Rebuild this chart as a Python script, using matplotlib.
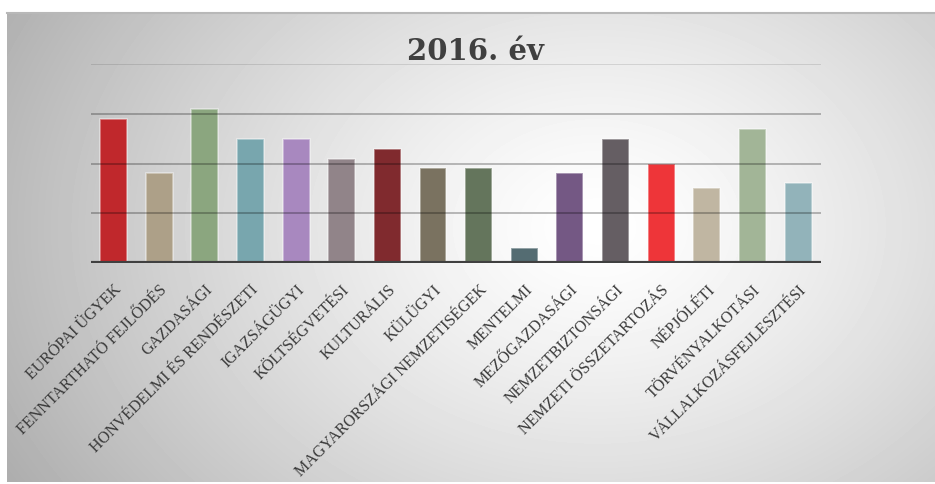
import numpy as np
import matplotlib.pyplot as plt

committees = [
    "EURÓPAI ÜGYEK", "FENNTARTHATÓ FEJLŐDÉS", "GAZDASÁGI",
    "HONVÉDELMI ÉS RENDÉSZETI", "IGAZSÁGÜGYI", "KÖLTSÉGVETÉSI",
    "KULTURÁLIS", "KÜLÜGYI", "MAGYARORSZÁGI NEMZETISÉGEK", "MENTELMI",
    "MEZŐGAZDASÁGI", "NEMZETBIZTONSÁGI", "NEMZETI ÖSSZETARTOZÁS",
    "NÉPJÓLÉTI", "TÖRVÉNYALKOTÁSI", "VÁLLALKOZÁSFEJLESZTÉSI",
]
values = [29, 18, 31, 25, 25, 21, 23, 19, 19, 3, 18, 25, 20, 15, 27, 16]
colors = [
    "#C0282C", "#ADA088", "#8BA67F", "#78A6AE", "#A888BF", "#918489",
    "#802A2E", "#7A7260", "#64755C", "#546C72", "#745884", "#655E63",
    "#EE3539", "#C0B6A2", "#A2B597", "#92B3BA",
]
grid_vals = [10, 20, 30, 40]

W, H = 935, 485
fig = plt.figure(figsize=(W / 100, H / 100), dpi=100)
fig.patch.set_facecolor("white")

# radial gradient background frame
bg = fig.add_axes([7 / W, 2 / H, 928 / W, 470 / H])
yy, xx = np.mgrid[0:470, 0:928]
r = np.sqrt(((xx - 590) / 560.0) ** 2 + ((yy - 215) / 420.0) ** 2)
shade = 1.0 - 0.25 * np.clip(r, 0, 1.2) ** 1.3
bg.imshow(shade, cmap="gray", vmin=0, vmax=1, aspect="auto",
          interpolation="bilinear")
bg.axis("off")
fig.add_artist(plt.Line2D([7 / W, 1], [1 - 13.5 / H, 1 - 13.5 / H],
                          color="#b8b8b8", lw=1.5))

ax = fig.add_axes([90.7 / W, 221 / H, 730.3 / W, 199 / H])
ax.patch.set_alpha(0)
x = np.arange(len(values))
ax.bar(x, values, width=0.59, color=colors, edgecolor=(1, 1, 1, 0.45),
       linewidth=1.2, zorder=2)
for g in grid_vals:
    ax.axhline(g, color="black", alpha=0.28 if g < 40 else 0.12,
               lw=1.3, zorder=3)
ax.axhline(0, color="#404040", lw=3, zorder=4)

ax.set_xlim(-0.5, len(values) - 0.5)
ax.set_ylim(0, 40)
ax.set_yticks([])
ax.set_xticks(x)
ax.set_xticklabels(committees, rotation=45, ha="right",
                   rotation_mode="anchor", family="Liberation Serif",
                   fontsize=11.5, color="#3a3a3a")
ax.tick_params(axis="x", length=0, pad=13)
for s in ax.spines.values():
    s.set_visible(False)

fig.text(0.508, 1 - 52 / H, "2016. év", ha="center", va="center",
         family="DejaVu Serif", fontweight="bold", fontsize=21,
         color="#404040")

fig.savefig("out.png", dpi=100)
